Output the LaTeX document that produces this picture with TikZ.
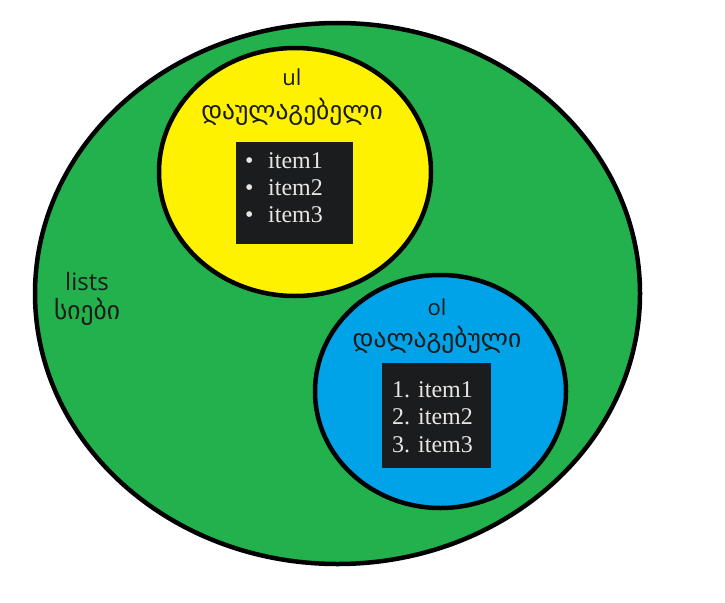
\documentclass[tikz,border=0pt]{standalone}
\usepackage{fontspec}
\setmainfont{Liberation Serif}
\newfontfamily\geo{DejaVu Sans}
\newfontfamily\lat{Open Sans}
\definecolor{pgreen}{HTML}{22B14C}
\definecolor{pyellow}{HTML}{FFF200}
\definecolor{pblue}{HTML}{00A2E8}
\definecolor{boxbg}{HTML}{1B1C1E}
\definecolor{itemfg}{HTML}{E8E6E3}
\definecolor{labfg}{HTML}{1A1A1A}
\begin{document}
\begin{tikzpicture}[x=1pt,y=-1pt,
  blob/.style={draw=black,line width=4.5pt},
  lab/.style={font=\lat\fontsize{22}{24}\selectfont,text=labfg,inner sep=0pt,anchor=center},
  labbig/.style={lab,font=\lat\fontsize{24}{26}\selectfont},
  labge/.style={lab,font=\geo\fontsize{25.5}{28}\selectfont},
  listbox/.style={fill=boxbg,draw=none},
  itm/.style={font=\fontsize{24}{27}\selectfont,text=itemfg,inner sep=0pt,anchor=base west}]
\useasboundingbox (0,0) rectangle (725,602);
% regions
\draw[blob,fill=pgreen] (337.5,293.5) ellipse [x radius=302.5, y radius=270.5];
\draw[blob,fill=pyellow] (295,172) ellipse [x radius=136, y radius=124];
\draw[blob,fill=pblue] (440.5,391.5) ellipse [x radius=125.5, y radius=116.5];
% labels
\node[labbig] (lists) at (87,281) {lists};
\node[labge] (listsge) at (87,312) {სიები};
\node[lab] (ul) at (292,77) {ul};
\node[labge] (ulge) at (292,112) {დაულაგებელი};
\node[lab] (ol) at (437,307) {ol};
\node[labge] (olge) at (437,340) {დალაგებული};
% ul box
\fill[listbox] (236,142) rectangle (353,244);
\node[itm] (ub1) at (245,168) {•};
\node[itm] (ub2) at (245,195) {•};
\node[itm] (ub3) at (245,222) {•};
\node[itm] (ui1) at (268,168) {item1};
\node[itm] (ui2) at (268,195) {item2};
\node[itm] (ui3) at (268,222) {item3};
% ol box
\fill[listbox] (382,363) rectangle (491,468);
\node[itm] (oi1) at (392,397) {1. item1};
\node[itm] (oi2) at (392,424) {2. item2};
\node[itm] (oi3) at (392,452) {3. item3};
\end{tikzpicture}
\end{document}
